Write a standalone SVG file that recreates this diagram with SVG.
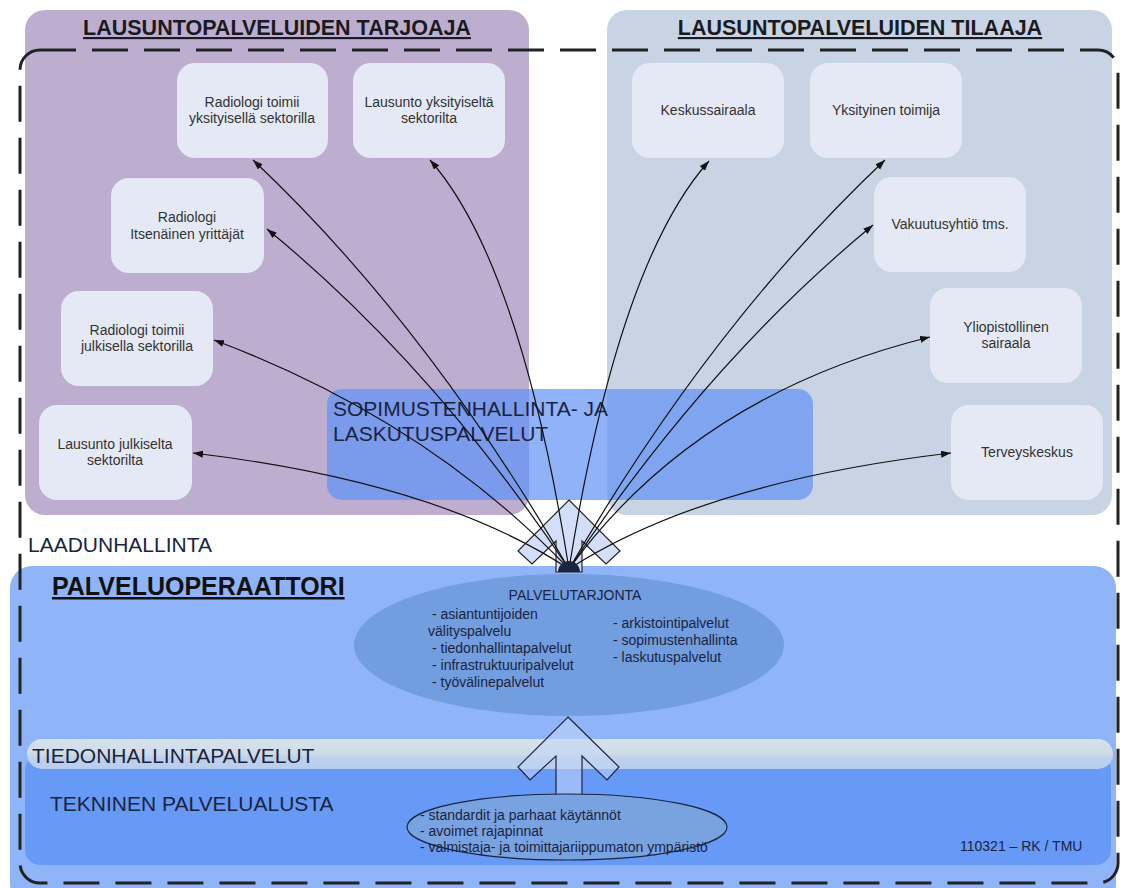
<svg xmlns="http://www.w3.org/2000/svg" width="1128" height="888" viewBox="0 0 1128 888">
<style>
.t{font-family:"Liberation Sans",Arial,sans-serif}
.title{font-size:21.5px;font-weight:bold;fill:#1a1a22;text-decoration:underline}
.node rect{fill:#e4e9f5}
.node text{font-family:"Liberation Sans",Arial,sans-serif;font-size:14px;fill:#333;text-anchor:middle}
.big{font-size:21px;fill:#1a2440}
.sm{font-size:14px;fill:#1a2440}
.con path{fill:none;stroke:#111;stroke-width:1.2;marker-end:url(#ah)}
</style>
<defs>
<marker id="ah" markerUnits="userSpaceOnUse" markerWidth="11" markerHeight="8" refX="10" refY="3.5" orient="auto">
<path d="M0,0 L10,3.5 L0,7 Z" fill="#111"/>
</marker>
<linearGradient id="band" x1="0" y1="0" x2="0" y2="1">
<stop offset="0" stop-color="#d6e2ea"/>
<stop offset="0.5" stop-color="#cfdce8"/>
<stop offset="0.6" stop-color="#bfd2ec"/>
<stop offset="1" stop-color="#b8cdee"/>
</linearGradient>
</defs>
<rect width="1128" height="888" fill="#ffffff"/>
<!-- panels -->
<g id="tarjoaja">
<rect x="25" y="10" width="504" height="505" rx="20" fill="#bdaecf"/>
<text class="t title" x="277" y="35" text-anchor="middle">LAUSUNTOPALVELUIDEN TARJOAJA</text>
</g>
<g id="tilaaja">
<rect x="607" y="10" width="505" height="505" rx="20" fill="#c8d4e3"/>
<text class="t title" x="860" y="35" text-anchor="middle">LAUSUNTOPALVELUIDEN TILAAJA</text>
</g>
<text class="t big" x="28" y="552" fill="#1a1a22">LAADUNHALLINTA</text>
<!-- operaattori -->
<g id="palveluoperaattori">
<rect x="10" y="566" width="1106" height="340" rx="22" fill="#8fb4f8"/>
<text class="t" x="52" y="595" font-size="25" font-weight="bold" fill="#111" text-decoration="underline">PALVELUOPERAATTORI</text>
</g>
<g id="tekninen">
<rect x="25" y="755" width="1086" height="110" rx="15" fill="#6799f6"/>
<text class="t big" x="50" y="811">TEKNINEN PALVELUALUSTA</text>
</g>
<g id="tiedonhallinta">
<rect x="27" y="739" width="1086" height="30" rx="15" fill="url(#band)"/>
<text class="t big" x="32" y="763" fill="#1a1a22">TIEDONHALLINTAPALVELUT</text>
</g>
<g id="palvelutarjonta">
<ellipse cx="569" cy="645" rx="215" ry="71" fill="#729ddf"/>
<text class="t sm" x="575" y="600" text-anchor="middle">PALVELUTARJONTA</text>
<text class="t sm" x="432" y="619">- asiantuntijoiden</text>
<text class="t sm" x="428" y="636">välityspalvelu</text>
<text class="t sm" x="432" y="653">- tiedonhallintapalvelut</text>
<text class="t sm" x="432" y="670">- infrastruktuuripalvelut</text>
<text class="t sm" x="432" y="687">- työvälinepalvelut</text>
<text class="t sm" x="613" y="628">- arkistointipalvelut</text>
<text class="t sm" x="613" y="645">- sopimustenhallinta</text>
<text class="t sm" x="613" y="662">- laskutuspalvelut</text>
</g>
<!-- bottom arrow -->
<g id="ylos-nuoli">
<path d="M568,717 L619,767 L607,780 L582,756 L582,797 L556,797 L556,756 L530,780 L518,767 Z" fill="#c3d6f8" fill-opacity="0.55" stroke="#1a2540" stroke-width="1.2"/>
</g>
<g id="alusta-ellipsi">
<ellipse cx="567" cy="827" rx="160" ry="33" fill="#79a2e0" stroke="#1a2540" stroke-width="1.2"/>
<text class="t sm" x="420" y="820">- standardit ja parhaat käytännöt</text>
<text class="t sm" x="420" y="836">- avoimet rajapinnat</text>
<text class="t sm" x="420" y="852">- valmistaja- ja toimittajariippumaton ympäristö</text>
</g>
<text class="t sm" x="960" y="851">110321 – RK / TMU</text>
<!-- nodes -->
<g id="n1" class="node"><rect x="177" y="63" width="151" height="95" rx="18"/><text x="252" y="107">Radiologi toimii</text><text x="252" y="123">yksityisellä sektorilla</text></g>
<g id="n2" class="node"><rect x="353" y="63" width="152" height="95" rx="18"/><text x="429" y="107">Lausunto yksityiseltä</text><text x="429" y="123">sektorilta</text></g>
<g id="n3" class="node"><rect x="111" y="178" width="153" height="95" rx="18"/><text x="187" y="222">Radiologi</text><text x="187" y="239">Itsenäinen yrittäjät</text></g>
<g id="n4" class="node"><rect x="61" y="291" width="152" height="95" rx="18"/><text x="137" y="335">Radiologi toimii</text><text x="137" y="351">julkisella sektorilla</text></g>
<g id="n5" class="node"><rect x="39" y="405" width="153" height="95" rx="18"/><text x="115" y="449">Lausunto julkiselta</text><text x="115" y="465">sektorilta</text></g>
<g id="n6" class="node"><rect x="632" y="63" width="152" height="95" rx="18"/><text x="708" y="115">Keskussairaala</text></g>
<g id="n7" class="node"><rect x="810" y="63" width="152" height="95" rx="18"/><text x="886" y="115">Yksityinen toimija</text></g>
<g id="n8" class="node"><rect x="874" y="177" width="152" height="95" rx="18"/><text x="950" y="229">Vakuutusyhtiö tms.</text></g>
<g id="n9" class="node"><rect x="930" y="288" width="152" height="95" rx="18"/><text x="1006" y="332">Yliopistollinen</text><text x="1006" y="348">sairaala</text></g>
<g id="n10" class="node"><rect x="951" y="405" width="152" height="95" rx="18"/><text x="1027" y="457">Terveyskeskus</text></g>
<!-- sopimustenhallinta box -->
<g id="sopimus">
<rect x="327" y="389" width="486" height="111" rx="15" fill="#5f91f6" fill-opacity="0.7"/>
<text class="t big" x="333" y="416">SOPIMUSTENHALLINTA- JA</text>
<text class="t big" x="333" y="441">LASKUTUSPALVELUT</text>
</g>
<!-- fan arrow -->
<g id="hajautus">
<path d="M569,500 L620,551 L606,564 L582,541 L582,572 L556,572 L556,541 L532,564 L518,551 Z" fill="#d3dffa" stroke="#222" stroke-width="1.2"/>
</g>
<g id="connectors" class="con">
<path d="M569,569 Q427,324 253,160"/>
<path d="M569,569 Q520,262 430,160"/>
<path d="M569,569 Q433,365 267,229"/>
<path d="M569,569 Q427,420 214,340"/>
<path d="M569,569 Q437,482 193,453"/>
<path d="M569,569 Q618,263 709,161"/>
<path d="M569,569 Q711,324 885,160"/>
<path d="M569,569 Q706,363 873,225"/>
<path d="M569,569 Q695,395 930,337"/>
<path d="M569,569 Q703,482 951,453"/>
</g>
<path id="kupoli" d="M558,572 A11,11 0 0 1 580,572 Z" fill="#1a2540"/>
<!-- dashed boundary -->
<rect x="20" y="50" width="1098" height="833" rx="20" fill="none" stroke="#222" stroke-width="3" stroke-dasharray="36 16"/>
</svg>
